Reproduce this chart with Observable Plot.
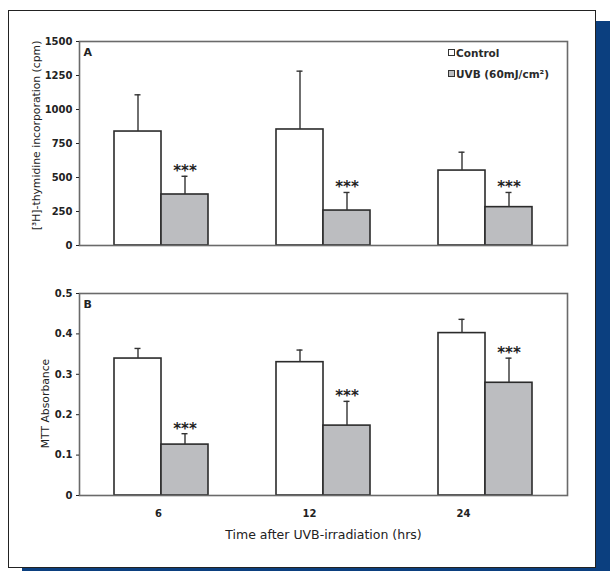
<!DOCTYPE html>
<html>
<head>
<meta charset="utf-8">
<script src="https://cdn.jsdelivr.net/npm/d3@7"></script>
<script src="https://cdn.jsdelivr.net/npm/@observablehq/plot@0.6"></script>
<style>
  html, body { margin: 0; padding: 0; background: #fff; }
  body { width: 610px; height: 571px; position: relative; overflow: hidden; font-family: "DejaVu Sans", sans-serif; }
  #shadowR { position: absolute; left: 596px; top: 21px; width: 14px; height: 550px; background: #0b3f7f; }
  #shadowB { position: absolute; left: 22px; top: 567px; width: 588px; height: 4px; background: #0b3f7f; }
  #card { position: absolute; left: 8px; top: 10px; width: 588px; height: 558px; box-sizing: border-box; border: 1.5px solid #222; background: #fff; }
  .panel { position: absolute; left: 0; }
  #panelA { top: 0; }
  #panelB { top: 260px; }
  #legend { position: absolute; left: 448px; top: 43px; font-size: 10.5px; font-weight: bold; color: #2a2a2a; line-height: 21px; }
  #legend .sw { display: inline-block; width: 5px; height: 5px; border: 1px solid #333; margin-right: 1px; vertical-align: 1px; }
</style>
</head>
<body>
<div id="shadowR"></div>
<div id="shadowB"></div>
<div id="card"></div>
<div id="panelA" class="panel"></div>
<div id="panelB" class="panel"></div>
<div id="legend"></div>
<script>
// ---- data ----
const times = ["6", "12", "24"];
const seriesNames = ["Control", "UVB (60mJ/cm²)"];
const seriesFill = ["#ffffff", "#bcbdc0"];

// Panel A: [3H]-thymidine incorporation (cpm)
const controlA = [838, 853, 551];
const controlAErr = [270, 429, 135];
const uvbA = [375, 257, 282];
const uvbAErr = [134, 133, 108];
const yTicksA = [0, 250, 500, 750, 1000, 1250, 1500];

// Panel B: MTT absorbance
const controlB = [0.339, 0.330, 0.402];
const controlBErr = [0.025, 0.030, 0.034];
const uvbB = [0.126, 0.173, 0.279];
const uvbBErr = [0.027, 0.060, 0.061];
const yTicksB = [0, 0.1, 0.2, 0.3, 0.4, 0.5];

const sigLabel = "***";
const xTitle = "Time after UVB-irradiation (hrs)";

// ---- rendering ----
const rows = (means, errs) => times.map((t, i) => ({time: t, mean: means[i], err: errs[i], top: means[i] + errs[i]}));

const BAND = 94, HALF = BAND / 2, CAP = 3;
const FONT = "'DejaVu Sans', sans-serif";
const tickLabelShift = [-3, -14, -22]; // tick labels sit slightly left of the group centres in the original

function panel({ctrl, uvb, yDomain, yTicks, yLabel, labelDx, labelDy, letter, height, marginTop, marginBottom, showX}) {
  const marks = [
    Plot.barY(ctrl, {x: "time", y: "mean", fill: seriesFill[0], stroke: "#2b2b2b", strokeWidth: 1.6, insetRight: HALF}),
    Plot.barY(uvb, {x: "time", y: "mean", fill: seriesFill[1], stroke: "#2b2b2b", strokeWidth: 1.6, insetLeft: HALF}),
    Plot.ruleX(ctrl, {x: "time", y1: "mean", y2: "top", dx: -HALF / 2, stroke: "#333", strokeWidth: 1.4}),
    Plot.ruleX(uvb, {x: "time", y1: "mean", y2: "top", dx: HALF / 2, stroke: "#333", strokeWidth: 1.4}),
    Plot.tickY(ctrl, {x: "time", y: "top", insetLeft: HALF / 2 - CAP, insetRight: BAND - HALF / 2 - CAP, stroke: "#333", strokeWidth: 1.4}),
    Plot.tickY(uvb, {x: "time", y: "top", insetLeft: HALF + HALF / 2 - CAP, insetRight: HALF / 2 - CAP, stroke: "#333", strokeWidth: 1.4}),
    Plot.text(uvb, {x: "time", y: "top", text: () => sigLabel, dx: HALF / 2, dy: -5, fontSize: 15, fontWeight: "bold", fill: "#222"}),
    Plot.frame({stroke: "#6a6a6a", strokeWidth: 1.6}),
    Plot.text([letter], {frameAnchor: "top-left", text: d => d, dx: 4, dy: 7, fontSize: 11, fontWeight: "bold", fill: "#222"}),
    Plot.axisY({ticks: yTicks, tickSize: 3, tickPadding: 4, tickFormat: d => String(d), fontWeight: "bold", fontSize: 10, label: null}),
    Plot.text([yLabel], {frameAnchor: "left", textAnchor: "middle", lineAnchor: "middle", text: d => d, rotate: -90, dx: labelDx, dy: labelDy, fontSize: 10.8, fill: "#222"})
  ];
  if (showX) {
    times.forEach((t, i) => {
      marks.push(Plot.axisX({ticks: [t], tickSize: 0, tickPadding: 14, dx: tickLabelShift[i], fontWeight: "bold", fontSize: 10, label: null}));
    });
    marks.push(Plot.axisX({ticks: [], tickSize: 0, label: xTitle, labelAnchor: "center", labelOffset: 43, labelArrow: "none", fontSize: 12.5, fill: "#222"}));
  }
  return Plot.plot({
    width: 610,
    height,
    marginLeft: 79,
    marginRight: 43,
    marginTop,
    marginBottom,
    style: {fontFamily: FONT, fontSize: "10px", color: "#222", background: "transparent", overflow: "visible"},
    x: {type: "band", domain: times, paddingInner: 0.422, paddingOuter: 0.211, axis: null},
    y: {domain: yDomain, axis: null},
    marks
  });
}

document.getElementById("panelA").append(panel({
  ctrl: rows(controlA, controlAErr), uvb: rows(uvbA, uvbAErr),
  yDomain: [0, 1500], yTicks: yTicksA, yLabel: "[³H]-thymidine incorporation (cpm)", labelDx: -43, labelDy: -8,
  letter: "A", height: 260, marginTop: 41, marginBottom: 15, showX: false
}));
document.getElementById("panelB").append(panel({
  ctrl: rows(controlB, controlBErr), uvb: rows(uvbB, uvbBErr),
  yDomain: [0, 0.5], yTicks: yTicksB, yLabel: "MTT Absorbance", labelDx: -34, labelDy: 9,
  letter: "B", height: 311, marginTop: 33, marginBottom: 76, showX: true
}));

// legend
const legend = d3.select("#legend");
seriesNames.forEach((name, i) => {
  const row = legend.append("div");
  row.append("span").attr("class", "sw").style("background", seriesFill[i]);
  row.append("span").text(name);
});
</script>
</body>
</html>
